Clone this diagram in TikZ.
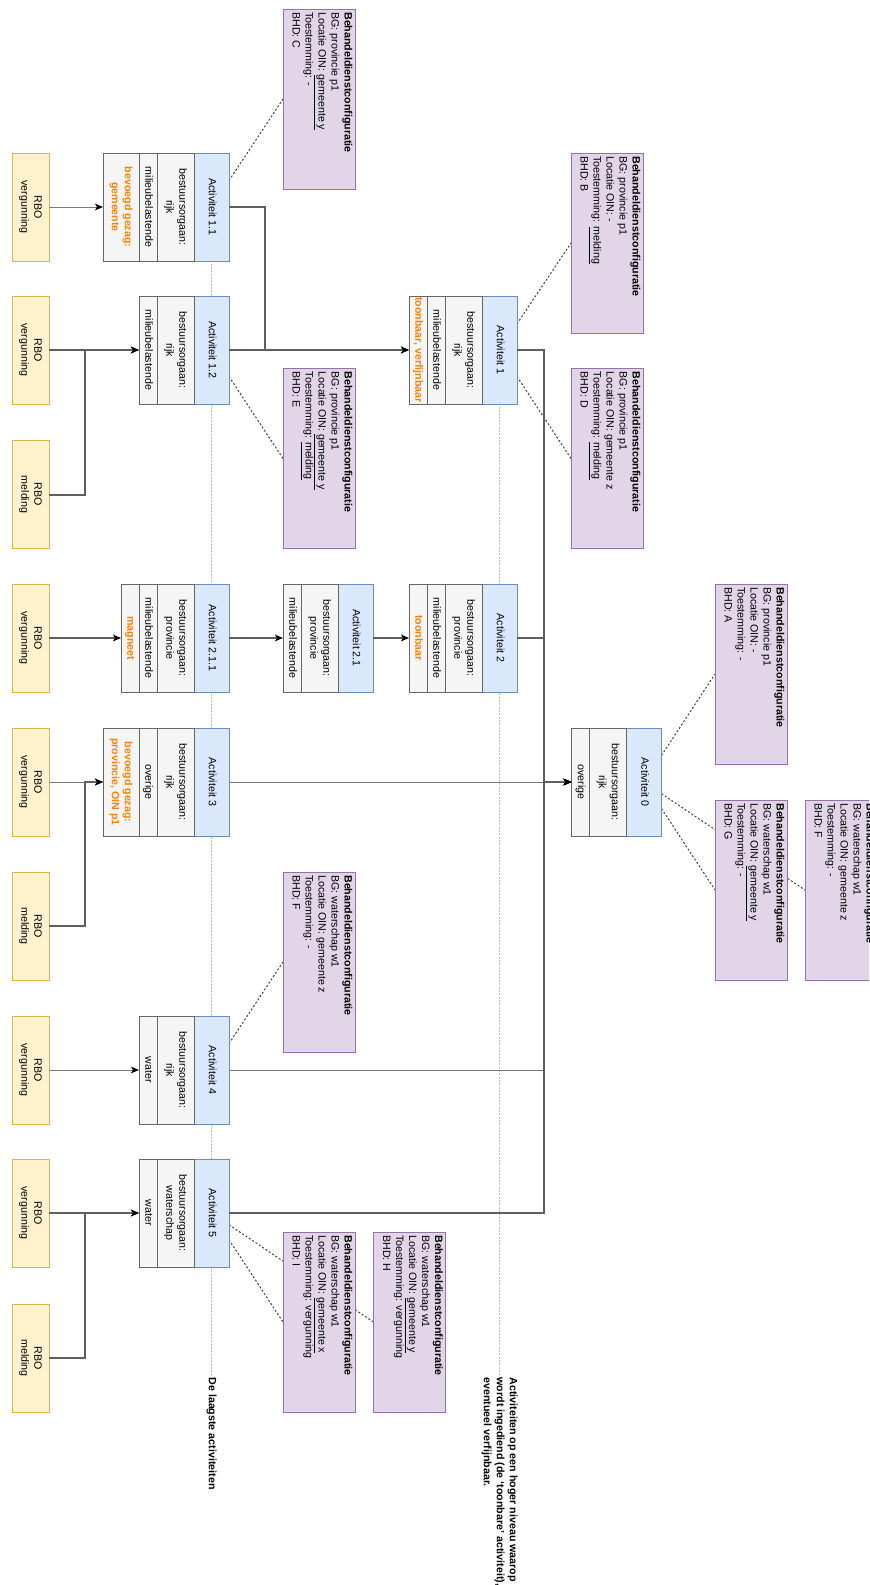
\documentclass[tikz,border=0pt]{standalone}
\usepackage{fontspec}
\setmainfont{Liberation Sans}
\usetikzlibrary{positioning,arrows.meta,backgrounds}

\definecolor{hdrfill}{HTML}{DAE8FC}
\definecolor{hdrline}{HTML}{6C8EBF}
\definecolor{rowfill}{HTML}{F5F5F5}
\definecolor{rowline}{HTML}{666666}
\definecolor{rbofill}{HTML}{FFF2CC}
\definecolor{rboline}{HTML}{D6B656}
\definecolor{bhdfill}{HTML}{E1D5E7}
\definecolor{bhdline}{HTML}{9673A6}
\definecolor{gezagcol}{HTML}{FF8000}
\definecolor{connthick}{HTML}{5F5F5F}
\definecolor{connthin}{HTML}{7A7A7A}
\definecolor{lanecol}{HTML}{BBBBBB}

\newcommand{\vtext}[1]{\rotatebox{-90}{\begin{tabular}{@{}c@{}}#1\end{tabular}}}
\newcommand{\vleft}[1]{\rotatebox{-90}{\begin{tabular}{@{}l@{}}#1\end{tabular}}}
\newcommand{\bhdtext}[1]{\rotatebox{-90}{\parbox[c][50pt][t]{130pt}{#1}}}

\tikzset{every picture/.style={line width=0.75pt},
  every node/.style={font=\fontsize{8}{9.75}\selectfont},
  cell/.style={outer sep=0pt, inner sep=0pt, minimum height=81pt},
  hdr/.style={cell, fill=hdrfill, draw=hdrline, minimum width=26.25pt},
  row/.style={cell, fill=rowfill, draw=rowline},
  orow/.style={row, text=gezagcol, font=\fontsize{8}{9.75}\selectfont\bfseries},
  wpx/.style={minimum width=#1*0.75pt},
  rbo/.style={cell, fill=rbofill, draw=rboline, minimum width=27.75pt},
  bhd/.style={fill=bhdfill, draw=bhdline, outer sep=0pt, inner sep=0pt, minimum width=54pt, minimum height=135pt},
  conn/.style={draw=connthick, line width=1.5pt, -{Stealth[length=6pt,width=5pt,inset=1.5pt,black]}},
  thinconn/.style={conn, draw=connthin, line width=0.75pt},
  bhdlink/.style={draw=black!75, line width=0.75pt, dash pattern=on 1.5pt off 1.5pt},
  lane/.style={draw=lanecol, line width=0.75pt, dash pattern=on 1.5pt off 1pt}
}

\begin{document}
\begin{tikzpicture}[x=0.75pt,y=0.75pt,yscale=-1,xscale=1]
\useasboundingbox (0,0) rectangle (869,1585);
\clip (0,0) rectangle (869,1585);

%Shape: Swimlane Activiteit 1.1
\node[hdr] (a11h) at (211.5,207) {\vtext{Activiteit 1.1}};
\node[row, wpx=37, left=0pt of a11h] (a11b) {\vtext{bestuursorgaan:\\rijk}};
\node[row, wpx=18, left=0pt of a11b] (a11m) {\vtext{milieubelastende}};
\node[orow, wpx=36, left=0pt of a11m] (a11o) {\vtext{bevoegd gezag:\\gemeente}};
%Shape: Swimlane Activiteit 1.2
\node[hdr] (a12h) at (211.5,350) {\vtext{Activiteit 1.2}};
\node[row, wpx=37, left=0pt of a12h] (a12b) {\vtext{bestuursorgaan:\\rijk}};
\node[row, wpx=18, left=0pt of a12b] (a12m) {\vtext{milieubelastende}};
%Shape: Swimlane Activiteit 2.1.1
\node[hdr] (a211h) at (211.5,638) {\vtext{Activiteit 2.1.1}};
\node[row, wpx=37, left=0pt of a211h] (a211b) {\vtext{bestuursorgaan:\\provincie}};
\node[row, wpx=18, left=0pt of a211b] (a211m) {\vtext{milieubelastende}};
\node[orow, wpx=18, left=0pt of a211m] (a211o) {\vtext{magneet}};
%Shape: Swimlane Activiteit 3
\node[hdr] (a3h) at (211.5,782) {\vtext{Activiteit 3}};
\node[row, wpx=37, left=0pt of a3h] (a3b) {\vtext{bestuursorgaan:\\rijk}};
\node[row, wpx=18, left=0pt of a3b] (a3m) {\vtext{overige}};
\node[orow, wpx=36, left=0pt of a3m] (a3o) {\vtext{bevoegd gezag:\\provincie, OIN p1}};
%Shape: Swimlane Activiteit 4
\node[hdr] (a4h) at (211.5,1070) {\vtext{Activiteit 4}};
\node[row, wpx=37, left=0pt of a4h] (a4b) {\vtext{bestuursorgaan:\\rijk}};
\node[row, wpx=18, left=0pt of a4b] (a4m) {\vtext{water}};
%Shape: Swimlane Activiteit 5
\node[hdr] (a5h) at (211.5,1213) {\vtext{Activiteit 5}};
\node[row, wpx=37, left=0pt of a5h] (a5b) {\vtext{bestuursorgaan:\\waterschap}};
\node[row, wpx=18, left=0pt of a5b] (a5m) {\vtext{water}};
%Shape: Swimlane Activiteit 2.1
\node[hdr] (a21h) at (355.5,638) {\vtext{Activiteit 2.1}};
\node[row, wpx=37, left=0pt of a21h] (a21b) {\vtext{bestuursorgaan:\\provincie}};
\node[row, wpx=18, left=0pt of a21b] (a21m) {\vtext{milieubelastende}};
%Shape: Swimlane Activiteit 1
\node[hdr] (a1h) at (499.5,350) {\vtext{Activiteit 1}};
\node[row, wpx=37, left=0pt of a1h] (a1b) {\vtext{bestuursorgaan:\\rijk}};
\node[row, wpx=18, left=0pt of a1b] (a1m) {\vtext{milieubelastende}};
\node[orow, wpx=18, left=0pt of a1m] (a1o) {\vtext{toonbaar, verfijnbaar}};
%Shape: Swimlane Activiteit 2
\node[hdr] (a2h) at (499.5,638) {\vtext{Activiteit 2}};
\node[row, wpx=37, left=0pt of a2h] (a2b) {\vtext{bestuursorgaan:\\provincie}};
\node[row, wpx=18, left=0pt of a2b] (a2m) {\vtext{milieubelastende}};
\node[orow, wpx=18, left=0pt of a2m] (a2o) {\vtext{toonbaar}};
%Shape: Swimlane Activiteit 0
\node[hdr] (a0h) at (644,782) {\vtext{Activiteit 0}};
\node[row, wpx=37, left=0pt of a0h] (a0b) {\vtext{bestuursorgaan:\\rijk}};
\node[row, wpx=18, left=0pt of a0b] (a0m) {\vtext{overige}};

%Shape: Rectangle RBO
\node[rbo] (rbo1) at (30.5,207) {\vtext{RBO\\vergunning}};
\node[rbo] (rbo2) at (30.5,350) {\vtext{RBO\\vergunning}};
\node[rbo] (rbo3) at (30.5,494.5) {\vtext{RBO\\melding}};
\node[rbo] (rbo4) at (30.5,638) {\vtext{RBO\\vergunning}};
\node[rbo] (rbo5) at (30.5,782) {\vtext{RBO\\vergunning}};
\node[rbo] (rbo6) at (30.5,926) {\vtext{RBO\\melding}};
\node[rbo] (rbo7) at (30.5,1070) {\vtext{RBO\\vergunning}};
\node[rbo] (rbo8) at (30.5,1213) {\vtext{RBO\\vergunning}};
\node[rbo] (rbo9) at (30.5,1358) {\vtext{RBO\\melding}};

%Shape: Rectangle Behandeldienstconfiguratie
\node[bhd] (bhdC) at (319,99) {\bhdtext{\textbf{Behandeldienstconfiguratie}\\BG: provincie p1\\Locatie OIN: \underline{gemeente y}\\Toestemming: -\\BHD: C}};
\node[bhd] (bhdE) at (319,458.5) {\bhdtext{\textbf{Behandeldienstconfiguratie}\\BG: provincie p1\\Locatie OIN: \underline{gemeente y}\\Toestemming: \underline{melding}\\BHD: E}};
\node[bhd] (bhdFb) at (319,962) {\bhdtext{\textbf{Behandeldienstconfiguratie}\\BG: waterschap w1\\Locatie OIN: gemeente z\\Toestemming: -\\BHD: F}};
\node[bhd] (bhdI) at (319,1322) {\bhdtext{\textbf{Behandeldienstconfiguratie}\\BG: waterschap w1\\Locatie OIN: \underline{gemeente x}\\Toestemming: vergunning\\BHD: I}};
\node[bhd] (bhdH) at (409.5,1322) {\bhdtext{\textbf{Behandeldienstconfiguratie}\\BG: waterschap w1\\Locatie OIN: \underline{gemeente y}\\Toestemming: vergunning\\BHD: H}};
\node[bhd] (bhdB) at (607,243) {\bhdtext{\textbf{Behandeldienstconfiguratie}\\BG: provincie p1\\Locatie OIN: -\\Toestemming: \underline{melding}\\BHD: B}};
\node[bhd] (bhdD) at (607,458.5) {\bhdtext{\textbf{Behandeldienstconfiguratie}\\BG: provincie p1\\Locatie OIN: gemeente z\\Toestemming: \underline{melding}\\BHD: D}};
\node[bhd] (bhdA) at (751,674) {\bhdtext{\textbf{Behandeldienstconfiguratie}\\BG: provincie p1\\Locatie OIN: -\\Toestemming: -\\BHD: A}};
\node[bhd] (bhdG) at (751,890) {\bhdtext{\textbf{Behandeldienstconfiguratie}\\BG: waterschap w1\\Locatie OIN: \underline{gemeente y}\\Toestemming: -\\BHD: G}};
\node[bhd] (bhdFa) at (841,890) {\bhdtext{\textbf{Behandeldienstconfiguratie}\\BG: waterschap w1\\Locatie OIN: gemeente z\\Toestemming: -\\BHD: F}};

% Text Node
\node[anchor=north, inner sep=0pt, font=\fontsize{8}{9.75}\selectfont\bfseries] (lowest) at (211.5,1377) {\vleft{De laagste activiteiten}};
% Text Node
\node[anchor=north, inner sep=0pt, font=\fontsize{8}{9.75}\selectfont\bfseries] (higher) at (499.5,1377) {\vleft{Activiteiten op een hoger niveau waarop\\wordt ingediend (de `toonbare' activiteit),\\eventueel verfijnbaar.}};

\begin{scope}[on background layer]
%Straight Lines
\draw[lane] (a11h.center) -- (lowest.north);
\draw[lane] (a1h.center) -- (higher.north);
%Straight Lines
\draw[bhdlink] (a11h) -- (bhdC.west);
\draw[bhdlink] (a12h) -- (bhdE.west);
\draw[bhdlink] (a1h) -- (bhdB.west);
\draw[bhdlink] (a1h) -- (bhdD.west);
\draw[bhdlink] (a0h) -- (bhdA.west);
\draw[bhdlink] (a0h) -- (bhdG.west);
\draw[bhdlink] (a0h) -- (bhdFa.west);
\draw[bhdlink] (a4h) -- (bhdFb.west);
\draw[bhdlink] (a5h) -- (bhdI.west);
\draw[bhdlink] (a5h) -- (bhdH.west);
\end{scope}

%Connectors
\draw[thinconn] (rbo1) -- (a11o);
\draw[conn] (a11h.east) -- ++(36,0) |- (a1o.west);
\draw[conn] (rbo2) -- (a12m);
\draw[conn] (rbo3.east) -- ++(36,0) |- (a12m.west);
\draw[conn] (a12h) -- (a1o);
\draw[conn] (a1h.east) -- ++(27,0) |- (a0m.west);
\draw[conn] (rbo4) -- (a211o);
\draw[conn] (a211h) -- (a21m);
\draw[conn] (a21h) -- (a2o);
\draw[conn] (a2h.east) -- ++(27,0) |- (a0m.west);
\draw[thinconn] (rbo5) -- (a3o);
\draw[conn] (rbo6.east) -- ++(36,0) |- (a3o.west);
\draw[thinconn] (a3h) -- (a0m);
\draw[thinconn] (rbo7) -- (a4m);
\draw[thinconn] (a4h.east) -- ++(315,0) |- (a0m.west);
\draw[conn] (rbo8) -- (a5m);
\draw[conn] (rbo9.east) -- ++(36,0) |- (a5m.west);
\draw[conn] (a5h.east) -- ++(315,0) |- (a0m.west);

\end{tikzpicture}
\end{document}
